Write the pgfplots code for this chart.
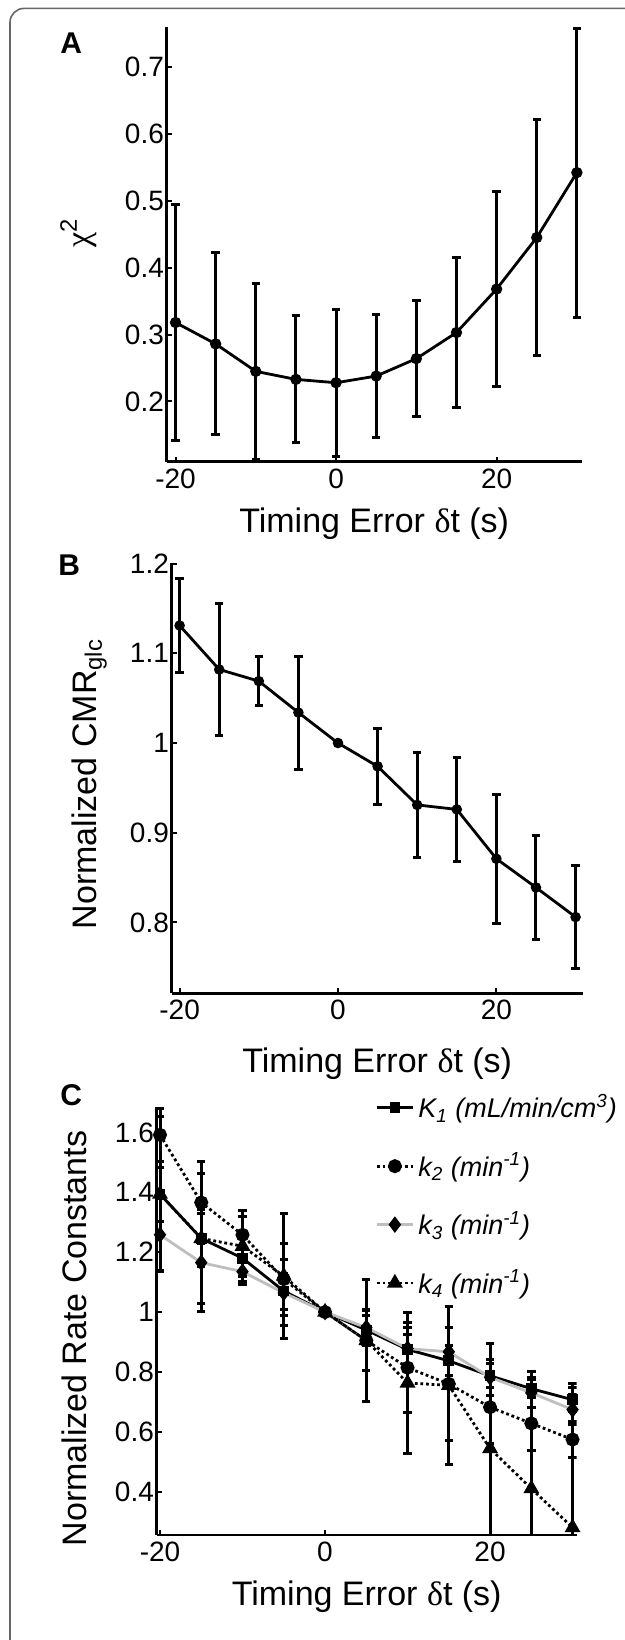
\documentclass[border=0pt]{standalone}
\usepackage{fontspec}
\setmainfont{Liberation Sans}
\newfontfamily\grk{Liberation Serif}
\usepackage{pgfplots}
\pgfplotsset{compat=1.18}
\newcommand{\dt}{{\grk δ}t}
\pgfplotsset{
  myax/.style={
    scale only axis, anchor=south west,
    axis lines*=left, axis line style={line width=1.4pt,-},
    tick align=inside, major tick length=2.5pt, tick style={line width=1pt, black},
    xtick={-20,0,20},
    tick label style={font=\fontsize{14}{16}\selectfont},
    yticklabel style={inner sep=1.2pt},
    label style={font=\fontsize{17}{20}\selectfont},
    /pgf/number format/assume math mode=true,
    /pgf/number format/fixed, /pgf/number format/precision=1,
    every axis plot/.append style={line width=1.4pt},
  },
  dotline/.style={dash pattern=on 1.4pt off 1.4pt},
  eb/.style={error bars/.cd, y dir=both, y explicit,
    error bar style={solid, black, line width=1.5pt},
    error mark options={rotate=90, mark size=2.1pt, line width=1.5pt, black, solid}},
}
\begin{document}
\begin{tikzpicture}
\path[use as bounding box] (0,0) rectangle (312.5pt,-820pt);
\draw[black!60, line width=0.8pt, rounded corners=7pt] (5pt,-830pt) -- (5pt,-4.2pt) -- (330pt,-4.2pt);

% ---------------- A ----------------
\begin{axis}[myax, at={(83.35pt,-230.85pt)}, width=207.5pt, height=217.5pt,
  xmin=-21.1, xmax=30.6, ymin=0.11, ymax=0.76,
  ytick={0.2,0.3,0.4,0.5,0.6,0.7},
  xlabel={Timing Error \dt\ (s)},
  xlabel style={at={([yshift=-23pt]axis description cs:0.5,0)}, anchor=north, inner sep=0pt},
  ylabel={{\grk χ}\textsuperscript{2}},
  ylabel style={at={([xshift=-34.8pt]axis description cs:0,0.527)}, anchor=south, inner sep=0pt},
]
\addplot[black, mark=*, mark size=2.1pt, eb] coordinates {
(-20,0.318) +- (0,0.176)
(-15,0.286) +- (0,0.136)
(-10,0.245) +- (0,0.131)
(-5,0.233) +- (0,0.095)
(0,0.228) +- (0,0.110)
(5,0.238) +- (0,0.092)
(10,0.264) +- (0,0.087)
(15,0.303) +- (0,0.112)
(20,0.368) +- (0,0.146)
(25,0.445) +- (0,0.176)
(30,0.542) +- (0,0.216)
};
\end{axis}

% ---------------- B ----------------
\begin{axis}[myax, at={(85.85pt,-496.65pt)}, width=205.5pt, height=215.3pt,
  xmin=-21, xmax=30.9, ymin=0.721, ymax=1.201,
  ytick={0.8,0.9,1,1.1,1.2},
  xlabel={Timing Error \dt\ (s)},
  xlabel style={at={([yshift=-27.3pt]axis description cs:0.5,0)}, anchor=north, inner sep=0pt},
  ylabel={Normalized CMR\textsubscript{glc}},
  ylabel style={at={([xshift=-32.3pt]axis description cs:0,0.486)}, anchor=south, inner sep=0pt},
]
\addplot[black, mark=*, mark size=1.9pt, eb] coordinates {
(-20,1.131) +- (0,0.052)
(-15,1.082) +- (0,0.074)
(-10,1.069) +- (0,0.027)
(-5,1.034) +- (0,0.063)
(0,1.000) +- (0,0.0)
(5,0.974) +- (0,0.0425)
(10,0.931) +- (0,0.0585)
(15,0.926) +- (0,0.0575)
(20,0.871) +- (0,0.072)
(25,0.839) +- (0,0.058)
(30,0.806) +- (0,0.057)
};
\end{axis}

% ---------------- C ----------------
\begin{axis}[myax, at={(78.35pt,-767.5pt)}, width=210pt, height=214pt,
  xmin=-20.4, xmax=30.5, ymin=0.255, ymax=1.685,
  ytick={0.4,0.6,0.8,1,1.2,1.4,1.6},
  xlabel={Timing Error \dt\ (s)},
  xlabel style={at={([yshift=-22.5pt]axis description cs:0.5,0)}, anchor=north, inner sep=0pt},
  ylabel={Normalized Rate Constants},
  ylabel style={at={([xshift=-34.8pt]axis description cs:0,0.459)}, anchor=south, inner sep=0pt},
  legend style={at={(axis description cs:0.52,1.04)}, anchor=north west, draw=none, fill=none,
    font=\itshape\fontsize{13.5}{15}\selectfont, inner sep=0pt, /tikz/row sep=12pt},
  legend cell align=left,
  legend image code/.code={\draw[mark repeat=2,mark phase=2,#1] plot coordinates {(0pt,0pt)(9pt,0pt)(18pt,0pt)};},
]
\addplot[black, solid, mark=square*, mark size=2pt, mark options={solid, fill=black}, eb] coordinates {
(-20,1.394) +- (0,0.09)
(-15,1.246) +- (0,0.095)
(-10,1.180) +- (0,0.077)
(-5,1.070) +- (0,0.06)
(0,1.000) +- (0,0)
(5,0.940) +- (0,0.05)
(10,0.875) +- (0,0.05)
(15,0.837) +- (0,0.05)
(20,0.787) +- (0,0.04)
(25,0.744) +- (0,0.03)
(30,0.707) +- (0,0.04)
};
\addlegendentry{K\textsubscript{1} (mL/min/cm\textsuperscript{3})}
\addplot[black, dotline, mark=*, mark size=2.8pt, mark options={solid, fill=black}, eb] coordinates {
(-20,1.592) +- (0,0.088)
(-15,1.366) +- (0,0.137)
(-10,1.258) +- (0,0.082)
(-5,1.110) +- (0,0.12)
(0,1.000) +- (0,0)
(5,0.905) +- (0,0.10)
(10,0.814) +- (0,0.15)
(15,0.760) +- (0,0.19)
(20,0.682) +- (0,0.12)
(25,0.628) +- (0,0.09)
(30,0.574) +- (0,0.06)
};
\addlegendentry{k\textsubscript{2} (min\textsuperscript{-1})}
\addplot[black!25, solid, mark=diamond*, mark size=3pt, mark options={solid, draw=black, fill=black}, eb] coordinates {
(-20,1.258) +- (0,0.12)
(-15,1.165) +- (0,0.163)
(-10,1.135) +- (0,0.044)
(-5,1.064) +- (0,0.11)
(0,1.000) +- (0,0)
(5,0.948) +- (0,0.06)
(10,0.878) +- (0,0.07)
(15,0.867) +- (0,0.08)
(20,0.782) +- (0,0.06)
(25,0.730) +- (0,0.05)
(30,0.674) +- (0,0.05)
};
\addlegendentry{k\textsubscript{3} (min\textsuperscript{-1})}
\addplot[black, dotline, mark=triangle*, mark size=3.2pt, mark options={solid, fill=black}, eb] coordinates {
(-20,1.394) +- (0,0.26)
(-15,1.246) +- (0,0.218)
(-10,1.220) +- (0,0.10)
(-5,1.120) +- (0,0.21)
(0,1.000) +- (0,0)
(5,0.905) +- (0,0.205)
(10,0.763) +- (0,0.235)
(15,0.755) +- (0,0.265)
(20,0.544) +- (0,0.35)
(25,0.410) +- (0,0.39)
(30,0.280) +- (0,0.48)
};
\addlegendentry{k\textsubscript{4} (min\textsuperscript{-1})}
\end{axis}

\node[anchor=base west, inner sep=0pt, font=\bfseries\fontsize{15}{17}\selectfont] at (30pt,-26.5pt) {A};
\node[anchor=base west, inner sep=0pt, font=\bfseries\fontsize{15}{17}\selectfont] at (29pt,-287.5pt) {B};
\node[anchor=base west, inner sep=0pt, font=\bfseries\fontsize{15}{17}\selectfont] at (30pt,-552.5pt) {C};
\end{tikzpicture}
\end{document}
